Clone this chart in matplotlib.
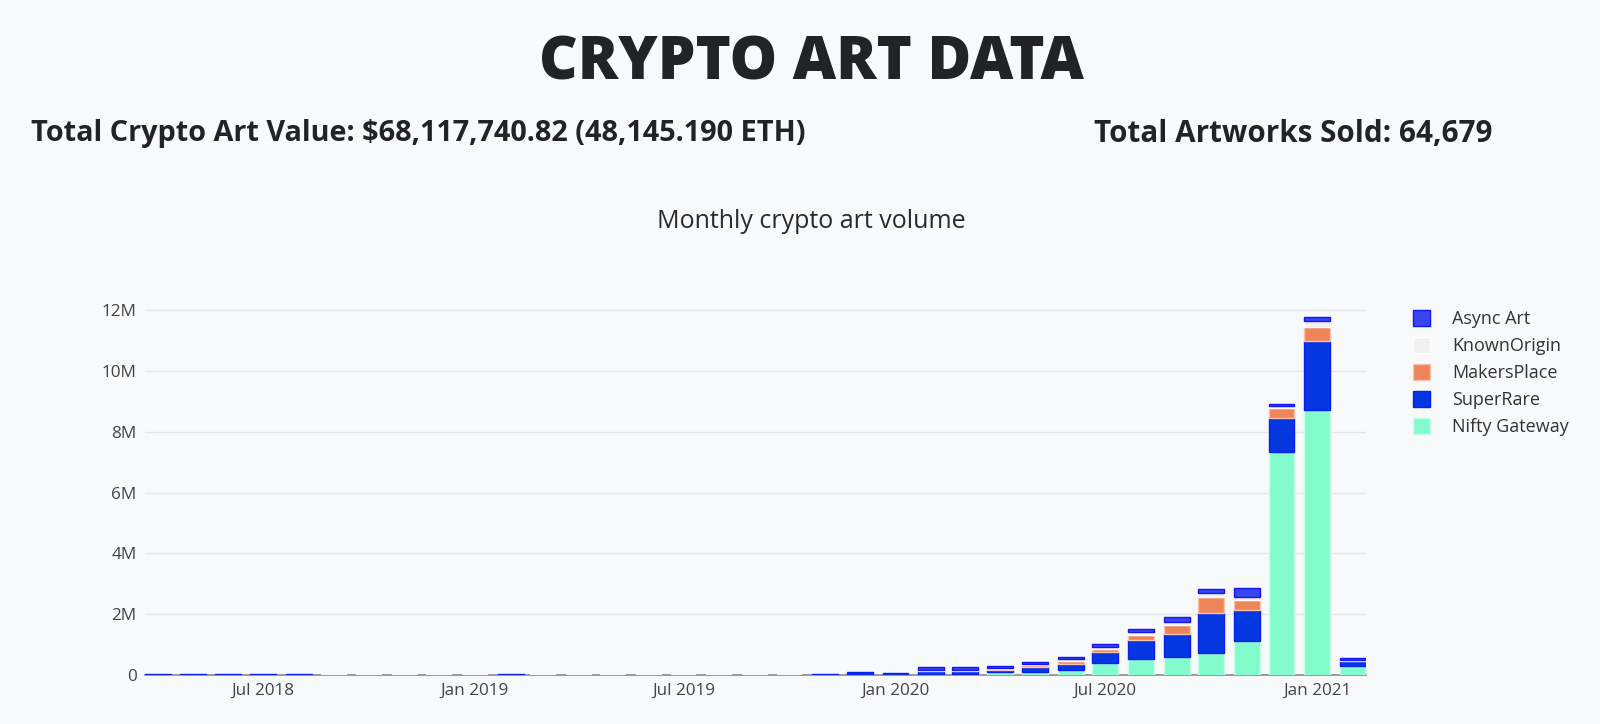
import numpy as np
import pandas as pd
import matplotlib
matplotlib.use("Agg")
import matplotlib.pyplot as plt
import matplotlib.dates as mdates
from matplotlib.patches import Patch
from matplotlib.ticker import FuncFormatter

# monthly volume in USD (thousands), Apr 2018 .. Feb 2021
months = pd.date_range("2018-04-01", "2021-02-01", freq="MS")

nifty_gateway = [0, 0, 0, 0, 0, 0, 0, 0, 0, 0, 0, 0, 0, 0, 0, 0, 0, 0, 0, 0, 0, 0,
                 0, 20, 100, 110, 175, 395, 526, 592, 723, 1107, 7340, 8730, 307]
superrare = [20, 20, 20, 20, 20, 0, 0, 0, 0, 0, 20, 0, 0, 0, 0, 0, 0, 0, 0, 25, 110, 75,
             130, 120, 65, 153, 197, 362, 636, 756, 1326, 1040, 1130, 2250, 153]
makersplace = [0, 0, 0, 0, 0, 0, 0, 0, 0, 0, 0, 0, 0, 0, 0, 0, 0, 0, 0, 0, 0, 0,
               0, 0, 40, 55, 99, 110, 164, 307, 515, 307, 318, 471, 0]
knownorigin = [0, 0, 0, 0, 0, 0, 0, 0, 0, 0, 0, 0, 0, 0, 0, 0, 0, 0, 0, 0, 0, 0,
               35, 30, 30, 44, 50, 55, 99, 77, 120, 99, 77, 197, 33]
async_art = [0, 0, 0, 0, 0, 0, 0, 0, 0, 0, 0, 0, 0, 0, 0, 0, 0, 0, 0, 0, 0, 0,
             90, 90, 75, 55, 70, 88, 88, 175, 142, 318, 44, 131, 66]

# bottom -> top stacking order
series = [
    ("Nifty Gateway", nifty_gateway, "#82fbcd", "#c8fde9"),
    ("SuperRare", superrare, "#0437df", "#0a1ff0"),
    ("MakersPlace", makersplace, "#ef8459", "#f8c3ac"),
    ("KnownOrigin", knownorigin, "#f1f1f1", "#ffffff"),
    ("Async Art", async_art, "#3a46f2", "#1515f5"),
]

bg = "#f8f9fb"
dark = "#212327"
plt.rcParams["font.family"] = ["Open Sans", "DejaVu Sans"]

fig = plt.figure(figsize=(16, 7.24), dpi=100, facecolor=bg)
ax = fig.add_axes([145 / 1600, 49 / 724, (1366 - 145) / 1600, 376 / 724])
ax.set_facecolor(bg)

fig.text(0.507, 1 - 63 / 724, "CRYPTO ART DATA", ha="center", va="center",
         fontsize=43, fontweight="heavy", color=dark)
fig.text(31 / 1600, 1 - 134 / 724, "Total Crypto Art Value: $68,117,740.82 (48,145.190 ETH)",
         ha="left", va="center", fontsize=20.8, fontweight="bold", color=dark)
fig.text(1094 / 1600, 1 - 134 / 724, "Total Artworks Sold: 64,679",
         ha="left", va="center", fontsize=21.3, fontweight="bold", color=dark)
fig.text(0.507, 1 - 222 / 724, "Monthly crypto art volume", ha="center", va="center",
         fontsize=18, color="#2a2a2a")

width = 22.5
# empty bars break the zero line between months
ax.bar(months, np.zeros(len(months)), width=width, bottom=0,
       edgecolor=bg, linewidth=1.5, zorder=3)

bottom = np.zeros(len(months))
for name, vals, color, edge in series:
    v = np.array(vals, dtype=float) * 1000
    edges = [edge if val > 0 else "none" for val in v]
    ax.bar(months, v, width=width, bottom=bottom, color=color,
           edgecolor=edges, linewidth=1.0, zorder=4)
    bottom += v

ax.set_xlim(months[0] - pd.Timedelta(days=11.3), months[-1] + pd.Timedelta(days=11.3))
ax.set_ylim(0, 12.37e6)

ax.set_yticks(np.arange(0, 12.1e6, 2e6))
ax.yaxis.set_major_formatter(FuncFormatter(lambda v, p: "0" if v == 0 else f"{int(v / 1e6)}M"))
ax.xaxis.set_major_locator(mdates.MonthLocator(bymonth=[1, 7]))
ax.xaxis.set_major_formatter(mdates.DateFormatter("%b %Y"))
ax.tick_params(axis="both", length=0, labelsize=12.3, labelcolor="#444444")
ax.tick_params(axis="y", pad=6)
ax.tick_params(axis="x", pad=6)

ax.grid(axis="y", color="#e6e7e9", linewidth=1)
ax.set_axisbelow(True)
for s in ["top", "right", "left"]:
    ax.spines[s].set_visible(False)
ax.spines["bottom"].set_color("#8a8a8a")
ax.spines["bottom"].set_linewidth(1.2)
ax.spines["bottom"].set_zorder(2)

handles = [Patch(facecolor=c, edgecolor=e, label=n) for n, _, c, e in reversed(series)]
fig.legend(handles=handles, loc="upper left", bbox_to_anchor=(1397 / 1600, 1 - 294 / 724),
           frameon=False, fontsize=13, handlelength=0.95, handleheight=0.95,
           handletextpad=1.2, labelspacing=0.5, labelcolor="#333333")

fig.savefig("out.png", dpi=100, facecolor=bg)
